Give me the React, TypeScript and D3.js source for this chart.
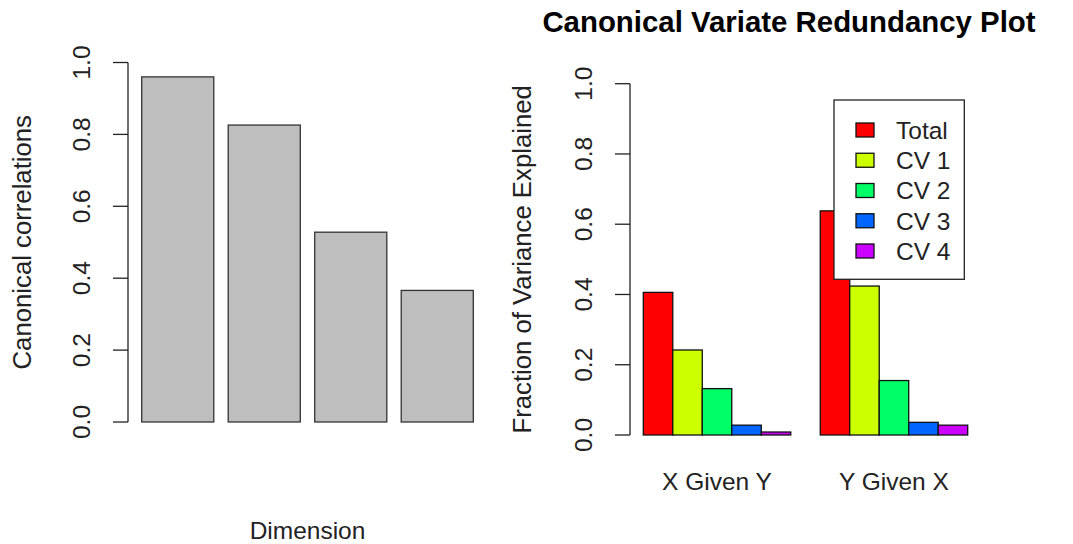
import React, { useEffect, useRef } from "react";
import * as d3 from "d3";

// left panel: canonical correlations per dimension
const dimensions = ["1", "2", "3", "4"];
const canonicalCorrelations = [0.96, 0.826, 0.528, 0.366];

// right panel: redundancy, grouped bars
const groups = ["X Given Y", "Y Given X"];
const seriesNames = ["Total", "CV 1", "CV 2", "CV 3", "CV 4"];
const xGivenY = [0.406, 0.242, 0.132, 0.028, 0.0085];
const yGivenX = [0.638, 0.424, 0.155, 0.036, 0.028];
const seriesColors = ["#FF0000", "#CCFF00", "#00FF66", "#0066FF", "#CC00FF"];

const yTicks = [0, 0.2, 0.4, 0.6, 0.8, 1.0];

const FONT = "'Liberation Sans', Arial, Helvetica, sans-serif";
const FS = 24.5;

const drawYAxis = (g, y, x0, labelX, title, titleX) => {
  g.append("line")
    .attr("x1", x0).attr("x2", x0)
    .attr("y1", y(0)).attr("y2", y(1))
    .attr("stroke", "#222").attr("stroke-width", 1.3);
  yTicks.forEach((t) => {
    g.append("line")
      .attr("x1", x0 - 15).attr("x2", x0)
      .attr("y1", y(t)).attr("y2", y(t))
      .attr("stroke", "#222").attr("stroke-width", 1.3);
    g.append("text")
      .attr("transform", `translate(${labelX},${y(t)}) rotate(-90)`)
      .attr("text-anchor", "middle")
      .attr("font-size", FS)
      .attr("fill", "#222")
      .text(d3.format(".1f")(t));
  });
  g.append("text")
    .attr("transform", `translate(${titleX},${(y(0) + y(1)) / 2}) rotate(-90)`)
    .attr("text-anchor", "middle")
    .attr("font-size", FS * 1.05)
    .attr("fill", "#222")
    .text(title);
};

const RedundancyFigure = () => {
  const ref = useRef(null);

  useEffect(() => {
    const svg = d3.select(ref.current);
    svg.selectAll("*").remove();
    svg.attr("width", 1073).attr("height", 544).style("font-family", FONT);
    svg.append("rect").attr("width", 1073).attr("height", 544).attr("fill", "#fff");

    // ---- left: canonical correlations
    const left = svg.append("g");
    const yL = d3.scaleLinear().domain([0, 1]).range([422, 62.5]);
    const xL = d3.scaleBand().domain(dimensions).range([141.7, 473.3]).paddingInner(1 / 6).paddingOuter(0);

    left.selectAll("rect.cc")
      .data(canonicalCorrelations)
      .join("rect")
      .attr("class", "cc")
      .attr("x", (d, i) => xL(dimensions[i]))
      .attr("y", (d) => yL(d))
      .attr("width", xL.bandwidth())
      .attr("height", (d) => yL(0) - yL(d))
      .attr("fill", "#BEBEBE")
      .attr("stroke", "#333")
      .attr("stroke-width", 1.3);

    drawYAxis(left, yL, 128, 90, "Canonical correlations", 31);

    left.append("text")
      .attr("x", (141.7 + 473.3) / 2)
      .attr("y", 539)
      .attr("text-anchor", "middle")
      .attr("font-size", FS)
      .attr("fill", "#222")
      .text("Dimension");

    // ---- right: redundancy plot
    const right = svg.append("g");
    const yR = d3.scaleLinear().domain([0, 1]).range([435, 83.7]);
    const x0 = d3.scaleBand().domain(groups).range([643.3, 967.7]).paddingInner(1 / 6).paddingOuter(0);
    const x1 = d3.scaleBand().domain(seriesNames).range([0, x0.bandwidth()]).padding(0);
    const color = d3.scaleOrdinal().domain(seriesNames).range(seriesColors);

    const grouped = groups.map((g, gi) => ({
      group: g,
      values: (gi === 0 ? xGivenY : yGivenX).map((v, i) => ({ key: seriesNames[i], value: v })),
    }));

    right.selectAll("g.grp")
      .data(grouped)
      .join("g")
      .attr("class", "grp")
      .attr("transform", (d) => `translate(${x0(d.group)},0)`)
      .selectAll("rect")
      .data((d) => d.values)
      .join("rect")
      .attr("x", (d) => x1(d.key))
      .attr("y", (d) => yR(d.value))
      .attr("width", x1.bandwidth())
      .attr("height", (d) => yR(0) - yR(d.value))
      .attr("fill", (d) => color(d.key))
      .attr("stroke", "#111")
      .attr("stroke-width", 1.3);

    drawYAxis(right, yR, 630, 592, "Fraction of Variance Explained", 531);

    groups.forEach((g) => {
      right.append("text")
        .attr("x", x0(g) + x0.bandwidth() / 2)
        .attr("y", 490)
        .attr("text-anchor", "middle")
        .attr("font-size", FS)
        .attr("fill", "#222")
        .text(g);
    });

    // legend
    const legend = right.append("g");
    legend.append("rect")
      .attr("x", 834).attr("y", 100)
      .attr("width", 130.3).attr("height", 179.3)
      .attr("fill", "#fff")
      .attr("stroke", "#222")
      .attr("stroke-width", 1.3);
    seriesNames.forEach((name, i) => {
      const cy = 130 + i * 30.25;
      legend.append("rect")
        .attr("x", 856).attr("y", cy - 7)
        .attr("width", 18).attr("height", 14)
        .attr("fill", color(name))
        .attr("stroke", "#111")
        .attr("stroke-width", 1.3);
      legend.append("text")
        .attr("x", 896).attr("y", cy)
        .attr("dy", "0.36em")
        .attr("font-size", FS)
        .attr("fill", "#222")
        .text(name);
    });

    svg.append("text")
      .attr("x", 789)
      .attr("y", 32)
      .attr("text-anchor", "middle")
      .attr("font-size", FS * 1.2)
      .attr("font-weight", "bold")
      .attr("fill", "#000")
      .text("Canonical Variate Redundancy Plot");
  }, []);

  return <svg ref={ref} />;
};

export default function App() {
  return (
    <div style={{ position: "absolute", left: 0, top: 0 }}>
      <RedundancyFigure />
    </div>
  );
}
